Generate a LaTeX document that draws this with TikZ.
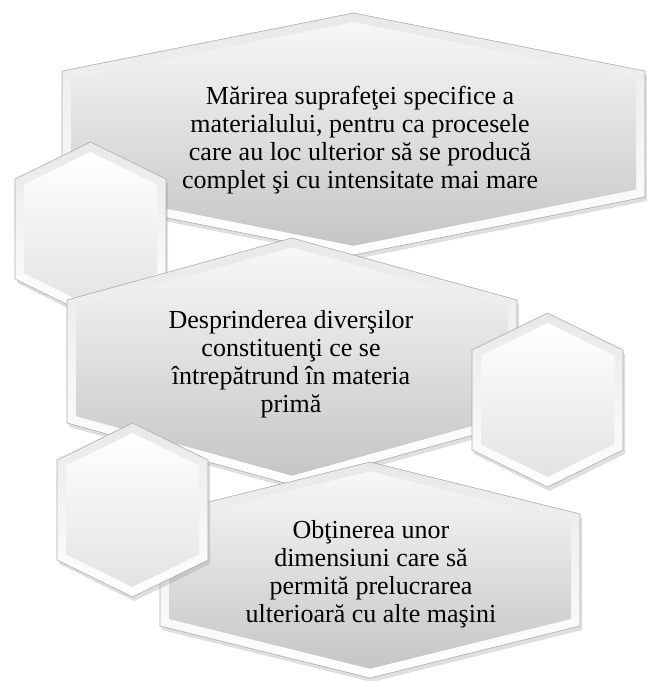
\documentclass[tikz,border=0pt]{standalone}
\usepackage{fontspec}
\setmainfont{Liberation Serif}
\usetikzlibrary{shadows}

\newcommand{\bev}{9}
\newcommand{\hexbox}[6]{%
  \pgfmathsetmacro{\hxl}{#2-#4/2}
  \pgfmathsetmacro{\hxr}{#2+#4/2}
  \pgfmathsetmacro{\hxa}{#3+#5}
  \pgfmathsetmacro{\hxb}{#3+#5+#6}
  \pgfmathsetmacro{\hxc}{#3+2*#5+#6}
  \path[#1] (#2,#3) -- (\hxr,\hxa) -- (\hxr,\hxb) -- (#2,\hxc) -- (\hxl,\hxb) -- (\hxl,\hxa) -- cycle;
}
\newcommand{\hexbevel}[7]{%
  \hexbox{#1}{#3}{#4}{#5}{#6}{#7}
  \pgfmathsetmacro{\hxs}{#6/(#5/2)}
  \pgfmathsetmacro{\hxk}{\bev*sqrt(1+\hxs*\hxs)}
  \pgfmathsetmacro{\hxw}{#5-2*\bev}
  \pgfmathsetmacro{\hxd}{\hxs*(#5/2-\bev)}
  \pgfmathsetmacro{\hxt}{#4+\hxk}
  \pgfmathsetmacro{\hxh}{#7+2*#6-2*\hxk-2*\hxd}
  \hexbox{#2}{#3}{\hxt}{\hxw}{\hxd}{\hxh}
}

\tikzset{
  rim/.style={draw=gray!65, line width=.6pt, top color=gray!18, bottom color=white,
    drop shadow={opacity=.25, shadow xshift=2pt, shadow yshift=-4pt}},
  bigface/.style={top color=white!94!gray, bottom color=gray!45},
  smallface/.style={top color=white, bottom color=gray!22},
  hextext/.style={align=center, inner sep=0pt, font=\fontsize{26}{28}\selectfont}
}

\begin{document}
\begin{tikzpicture}[x=1pt, y=-1pt]
\useasboundingbox (0,0) rectangle (647,681);

\hexbevel{rim}{bigface}{353.5}{13}{583}{58}{126}
\hexbevel{rim}{smallface}{90.5}{142}{151}{37}{100}
\hexbevel{rim}{bigface}{292}{238}{450}{62}{123}
\hexbevel{rim}{smallface}{547.5}{313}{151}{37}{100}
\hexbevel{rim}{bigface}{370}{462}{420}{52}{112}
\hexbevel{rim}{smallface}{132.5}{423}{151}{37}{100}

\node[hextext] (sus) at (360,140) {Mărirea suprafeţei specifice a\\materialului, pentru ca procesele\\care au loc ulterior să se producă\\complet şi cu intensitate mai mare};
\node[hextext] (mijloc) at (291,364) {Desprinderea diverşilor\\constituenţi ce se\\întrepătrund în materia\\primă};
\node[hextext] (jos) at (371,574) {Obţinerea unor\\dimensiuni care să\\permită prelucrarea\\ulterioară cu alte maşini};

\end{tikzpicture}
\end{document}
